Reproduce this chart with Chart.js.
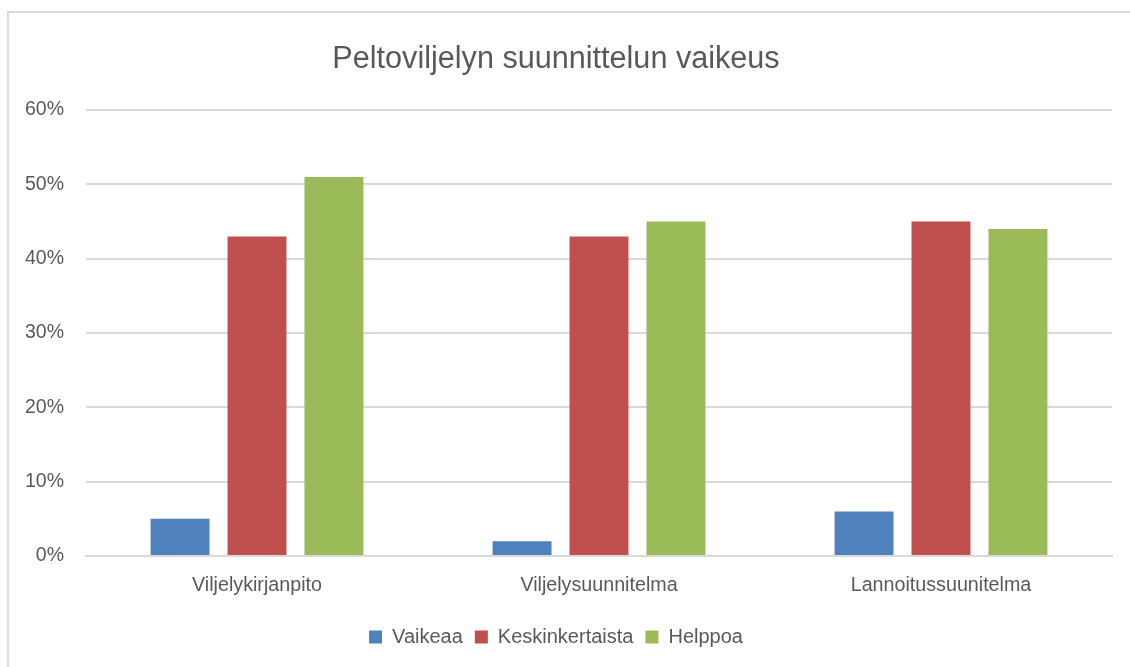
<!DOCTYPE html>
<html lang="fi">
<head>
  <meta charset="UTF-8">
  <title>Peltoviljelyn suunnittelun vaikeus</title>
  <script src="https://cdn.jsdelivr.net/npm/chart.js"></script>
  <style>
    body { margin: 0; background: #fff; overflow: hidden; }
    #frame {
      position: absolute; left: 7px; top: 11px;
      width: 1200px; height: 700px;
      border: 2px solid #d9d9d9;
    }
    #wrap { position: absolute; left: 0; top: 0; width: 1130px; height: 667px; }
  </style>
</head>
<body>
  <div id="frame"></div>
  <div id="wrap"><canvas id="chartBar"></canvas></div>
<script>
  const categories = ['Viljelykirjanpito', 'Viljelysuunnitelma', 'Lannoitussuunitelma'];
  const vaikeaa = [5, 2, 6];
  const keskinkertaista = [43, 43, 45];
  const helppoa = [51, 45, 44];
  const yTicks = [0, 10, 20, 30, 40, 50, 60];

  const textColor = '#595959';
  const fontFamily = '"Liberation Sans", Arial, sans-serif';

  const ctxBar = document.getElementById('chartBar');
  new Chart(ctxBar, {
    type: 'bar',
    data: {
      labels: categories,
      datasets: [
        { label: 'Vaikeaa', data: vaikeaa, backgroundColor: '#4f81bd' },
        { label: 'Keskinkertaista', data: keskinkertaista, backgroundColor: '#c0504d' },
        { label: 'Helppoa', data: helppoa, backgroundColor: '#9bbb59' }
      ]
    },
    options: {
      responsive: true,
      maintainAspectRatio: false,
      animation: false,
      categoryPercentage: 0.675,
      barPercentage: 0.766,
      layout: { padding: { left: 0, right: 18, top: 0, bottom: 10 } },
      plugins: {
        title: {
          display: true,
          text: 'Peltoviljelyn suunnittelun vaikeus',
          color: textColor,
          font: { family: fontFamily, size: 30.6, weight: 'normal' },
          padding: { top: 41.6, bottom: 31.7 }
        },
        legend: {
          display: true,
          position: 'bottom',
          labels: {
            color: textColor,
            font: { family: fontFamily, size: 20 },
            boxWidth: 13,
            boxHeight: 13,
            padding: 12
          }
        },
        tooltip: { enabled: false }
      },
      scales: {
        x: {
          afterFit: function (axis) { axis.height = 59; },
          grid: { display: false, drawTicks: false },
          border: { color: '#d9d9d9', width: 2 },
          ticks: {
            color: textColor,
            font: { family: fontFamily, size: 19.7 },
            padding: 18
          }
        },
        y: {
          min: 0,
          max: 60,
          afterBuildTicks: function (axis) {
            axis.ticks = yTicks.map(v => ({ value: v }));
          },
          afterFit: function (axis) { axis.width = 86; },
          grid: { color: '#d9d9d9', lineWidth: 2, drawTicks: false },
          border: { display: false },
          ticks: {
            color: textColor,
            font: { family: fontFamily, size: 19.5 },
            padding: 22,
            callback: function (v) { return v + '%'; }
          }
        }
      }
    }
  });
</script>
</body>
</html>
